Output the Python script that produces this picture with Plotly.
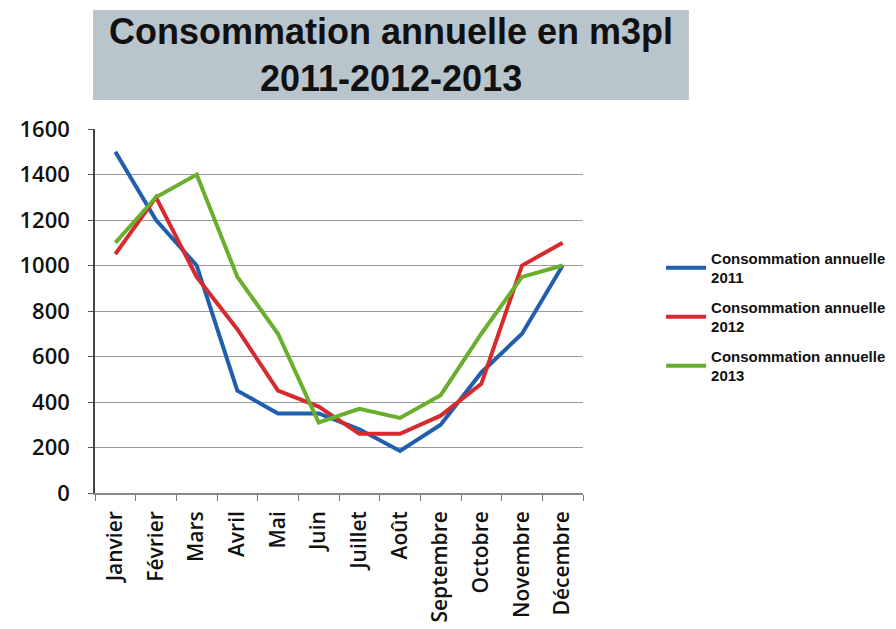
import plotly.graph_objects as go

mois = ["Janvier", "Février", "Mars", "Avril", "Mai", "Juin", "Juillet",
        "Août", "Septembre", "Octobre", "Novembre", "Décembre"]
conso2011 = [1500, 1200, 1000, 450, 350, 350, 280, 185, 300, 530, 700, 1000]
conso2012 = [1050, 1300, 950, 720, 450, 380, 260, 260, 340, 480, 1000, 1100]
conso2013 = [1100, 1300, 1400, 950, 700, 310, 370, 330, 430, 700, 950, 1000]
noms = ["Consommation annuelle<br>2011", "Consommation annuelle<br>2012",
        "Consommation annuelle<br>2013"]
couleurs = ["#1f5fad", "#d62a2e", "#6aae2e"]

fig = go.Figure()
for i, (serie, nom, coul) in enumerate(zip([conso2011, conso2012, conso2013],
                                           noms, couleurs)):
    fig.add_trace(go.Scatter(x=mois, y=serie, name=nom, mode="lines",
                             legendgroup="g%d" % i,
                             line=dict(color=coul, width=4)))

# titre dans un cadre gris
fig.add_shape(type="rect", xref="paper", yref="paper",
              x0=-0.004, x1=1.217, y0=1.080, y1=1.327,
              fillcolor="#b9c5cc", line=dict(width=0), layer="below")
fig.add_annotation(text="<b>Consommation annuelle en m3pl<br>2011-2012-2013</b>",
                   xref="paper", yref="paper", x=0.6065, y=1.203,
                   xanchor="center", yanchor="middle", showarrow=False,
                   font=dict(family="Liberation Sans", size=36, color="#111"))

# la page ajoute 8 px de marge autour du graphique
fig.update_layout(
    width=896, height=629,
    margin=dict(l=82, r=321, t=121, b=144),
    plot_bgcolor="white", paper_bgcolor="white",
    showlegend=True,
    legend=dict(x=1.16, y=0.69, xanchor="left", yanchor="top",
                font=dict(family="Liberation Sans", size=15, color="#111",
                          weight="bold"),
                tracegroupgap=7, itemwidth=40),
)
fig.update_xaxes(range=[-0.5, 11.5], tickangle=-90, tickson="boundaries",
                 ticks="outside", ticklen=6, tickcolor="#777",
                 showline=True, linecolor="#888", linewidth=1.5,
                 showgrid=False, ticklabelstandoff=8,
                 tickfont=dict(family="Open Sans", size=21, color="#111",
                               weight=600))
fig.update_yaxes(range=[0, 1600], dtick=200, ticks="outside", ticklen=5,
                 tickcolor="#555", showline=True, linecolor="#444",
                 linewidth=1.5, gridcolor="#999", gridwidth=1.2,
                 ticklabelstandoff=14,
                 tickfont=dict(family="Open Sans", size=22, color="#111",
                               weight=600))

fig.write_html("out.html")
